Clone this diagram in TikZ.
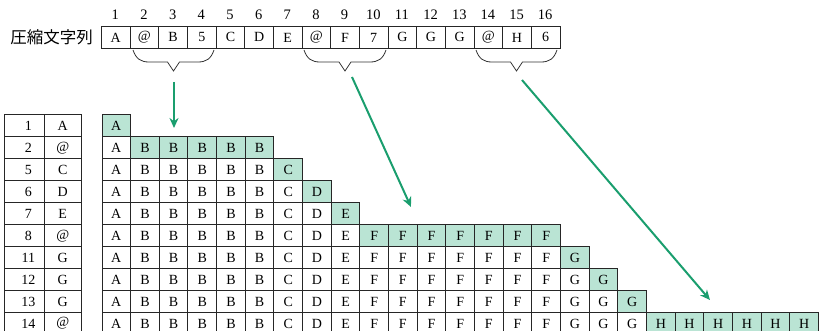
\documentclass[tikz,border=0pt]{standalone}
\usepackage{fontspec}
\setmainfont{Liberation Serif}
\newfontfamily\jpfont{Noto Sans CJK JP}
\usetikzlibrary{arrows.meta}
\definecolor{cellgreen}{RGB}{186,228,212}
\definecolor{arrowgreen}{RGB}{26,158,110}
\newcommand\cbrace[3]{%
  \pgfmathsetmacro\xm{(#1+#2)/2}%
  \draw[bracepath] (#1,50) .. controls (#1+3,59) and (#1+8,62) .. (#1+16,62) -- (\xm-6,62) -- (\xm,71) -- (\xm+6,62) -- (#2-16,62) .. controls (#2-8,62) and (#2-3,59) .. (#2,50);
  \coordinate (#3) at (\xm,72);}
\begin{document}
\begin{tikzpicture}[x=1pt,y=-1pt,
  cell/.style={draw=black!85, line width=0.9pt, minimum width=28.66pt, minimum height=21.95pt, inner sep=0pt, anchor=north west, font=\fontsize{14}{16}\selectfont},
  newcell/.style={cell, fill=cellgreen},
  idx/.style={font=\fontsize{14.5}{16}\selectfont, inner sep=0pt},
  conn/.style={draw=arrowgreen, line width=2pt, -{Stealth[length=10pt,width=9pt]}},
  bracepath/.style={draw=black!80, line width=0.8pt}]
\useasboundingbox (0,0) rectangle (820,331);
\clip (0,0) rectangle (820,331);
% label
\node[font=\jpfont\fontsize{16.5}{18}\selectfont, anchor=east, inner sep=0pt] (lbl) at (93,37) {圧縮文字列};
% top row
\foreach \c [count=\i] in {A,@,B,5,C,D,E,@,F,7,G,G,G,@,H,6} {
  \node[cell] (t\i) at ({101+(\i-1)*28.66},26) {\c};
  \node[idx] (n\i) at ({101+(\i-0.5)*28.66},15) {\i};
}
% braces
\cbrace{133}{214}{b1}
\cbrace{304}{386}{b2}
\cbrace{476}{557}{b3}
% left table
\foreach \p/\c [count=\r] in {1/A,2/@,5/C,6/D,7/E,8/@,11/G,12/G,13/G,14/@} {
  \node[cell, minimum width=40pt] (ln\r) at (3.5,{114.5+(\r-1)*21.95}) {\hspace*{9pt}\p};
  \node[cell, minimum width=37.5pt] (lc\r) at (43.5,{114.5+(\r-1)*21.95}) {\c};
}
% grid
\foreach \n [count=\r, remember=\n as \prev (initially 0)] in {1,6,7,8,9,16,17,18,19,25} {
  \foreach \c [count=\j] in {A,B,B,B,B,B,C,D,E,F,F,F,F,F,F,F,G,G,G,H,H,H,H,H,H} {
    \ifnum\j>\n\relax\else
      \ifnum\j>\prev\relax\def\st{newcell}\else\def\st{cell}\fi
      \node[\st] (g\r-\j) at ({101.5+(\j-1)*28.66},{114.5+(\r-1)*21.95}) {\c};
    \fi
  }
}
% arrows
\coordinate (a1s) at (174,82);
\coordinate (a1e) at (174,128);
\coordinate (a2s) at (352,77);
\coordinate (a2e) at (411,207);
\coordinate (a3s) at (522,80);
\coordinate (a3e) at (710,300);
\draw[conn] (a1s) -- (a1e);
\draw[conn] (a2s) -- (a2e);
\draw[conn] (a3s) -- (a3e);
\end{tikzpicture}
\end{document}
